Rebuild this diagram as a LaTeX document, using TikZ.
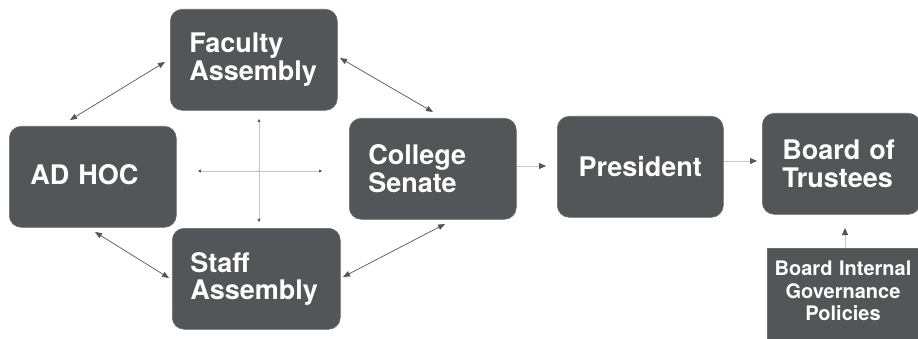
\documentclass[tikz,border=0pt]{standalone}
\usepackage{fontspec}
\setmainfont{TeX Gyre Heros}
\usetikzlibrary{arrows.meta}
\definecolor{boxgray}{HTML}{545559}
\definecolor{boxedge}{HTML}{6A6B6E}
\definecolor{linegray}{HTML}{555555}
\definecolor{lightline}{HTML}{C4C4C4}
\begin{document}
\begin{tikzpicture}[x=1pt,y=-1pt,
  box/.style={fill=boxgray, draw=boxedge, line width=0.6pt, rounded corners=12pt,
    text=white, font=\bfseries\fontsize{27}{27.5}\selectfont, align=left,
    inner ysep=0pt, minimum height=101, anchor=north west},
  plainbox/.style={fill=boxgray, draw=boxedge, line width=0.6pt, text=white,
    font=\bfseries\fontsize{20}{22.5}\selectfont, align=center, anchor=north},
  dbl/.style={draw=linegray, line width=0.7pt,
    {Triangle[length=7pt,width=5.5pt]}-{Triangle[length=7pt,width=5.5pt]}},
  flow/.style={draw=lightline, line width=0.8pt,
    -{Triangle[length=7pt,width=6pt,color=linegray]}},
  cross/.style={draw=lightline, line width=0.6pt,
    {Triangle[length=3pt,width=3pt,color=linegray]}-{Triangle[length=3pt,width=3pt,color=linegray]}}]
\useasboundingbox (0,0) rectangle (918,339);
\clip (0,0) rectangle (918,339);
\fill[white] (0,0) rectangle (918,339);

\node[box, text width=129, inner xsep=19] (fa) at (170,9) {Faculty\\Assembly};
\node[box, text width=125, inner xsep=21] (ah) at (9,126) {\raisebox{4pt}{AD HOC}};
\node[box, text width=132, inner xsep=18] (sa) at (172,228) {Staff\\Assembly};
\node[box, text width=129, inner xsep=19] (cs) at (349,118) {College\\Senate};
\node[box, text width=146, inner xsep=10, align=center] (pr) at (557,116) {President};
\node[box, text width=118, inner xsep=20] (bt) at (762,113) {Board of\\Trustees};
\node[plainbox, text width=150, inner xsep=1, inner ysep=13] (bi) at (843,248) {Board Internal\\Governance\\Policies\\~};

% double arrows
\coordinate (faL) at (165,62);  \coordinate (ahT) at (70,120);
\coordinate (faR) at (340,58);  \coordinate (csT) at (433,112);
\coordinate (ahB) at (95,232);  \coordinate (saL) at (169,278);
\coordinate (saR) at (343,277); \coordinate (csB) at (445,224);
\draw[dbl] (faL) -- (ahT);
\draw[dbl] (faR) -- (csT);
\draw[dbl] (ahB) -- (saL);
\draw[dbl] (saR) -- (csB);

% cross
\coordinate (cT) at (259,119); \coordinate (cB) at (259,222);
\coordinate (cL) at (198,171); \coordinate (cR) at (322,171);
\coordinate (cC) at (259,171);
\draw[cross] (cT) -- (cB);
\draw[cross] (cL) -- (cR);
\fill[lightline] (cC) circle (1.2);

% flow arrows
\coordinate (csE) at (517,166); \coordinate (prW) at (546,166);
\coordinate (prE) at (724,161); \coordinate (btW) at (757,161);
\coordinate (biN) at (845,248); \coordinate (btS) at (845,228);
\draw[flow] (csE) -- (prW);
\draw[flow] (prE) -- (btW);
\draw[flow] (biN) -- (btS);
\end{tikzpicture}
\end{document}
